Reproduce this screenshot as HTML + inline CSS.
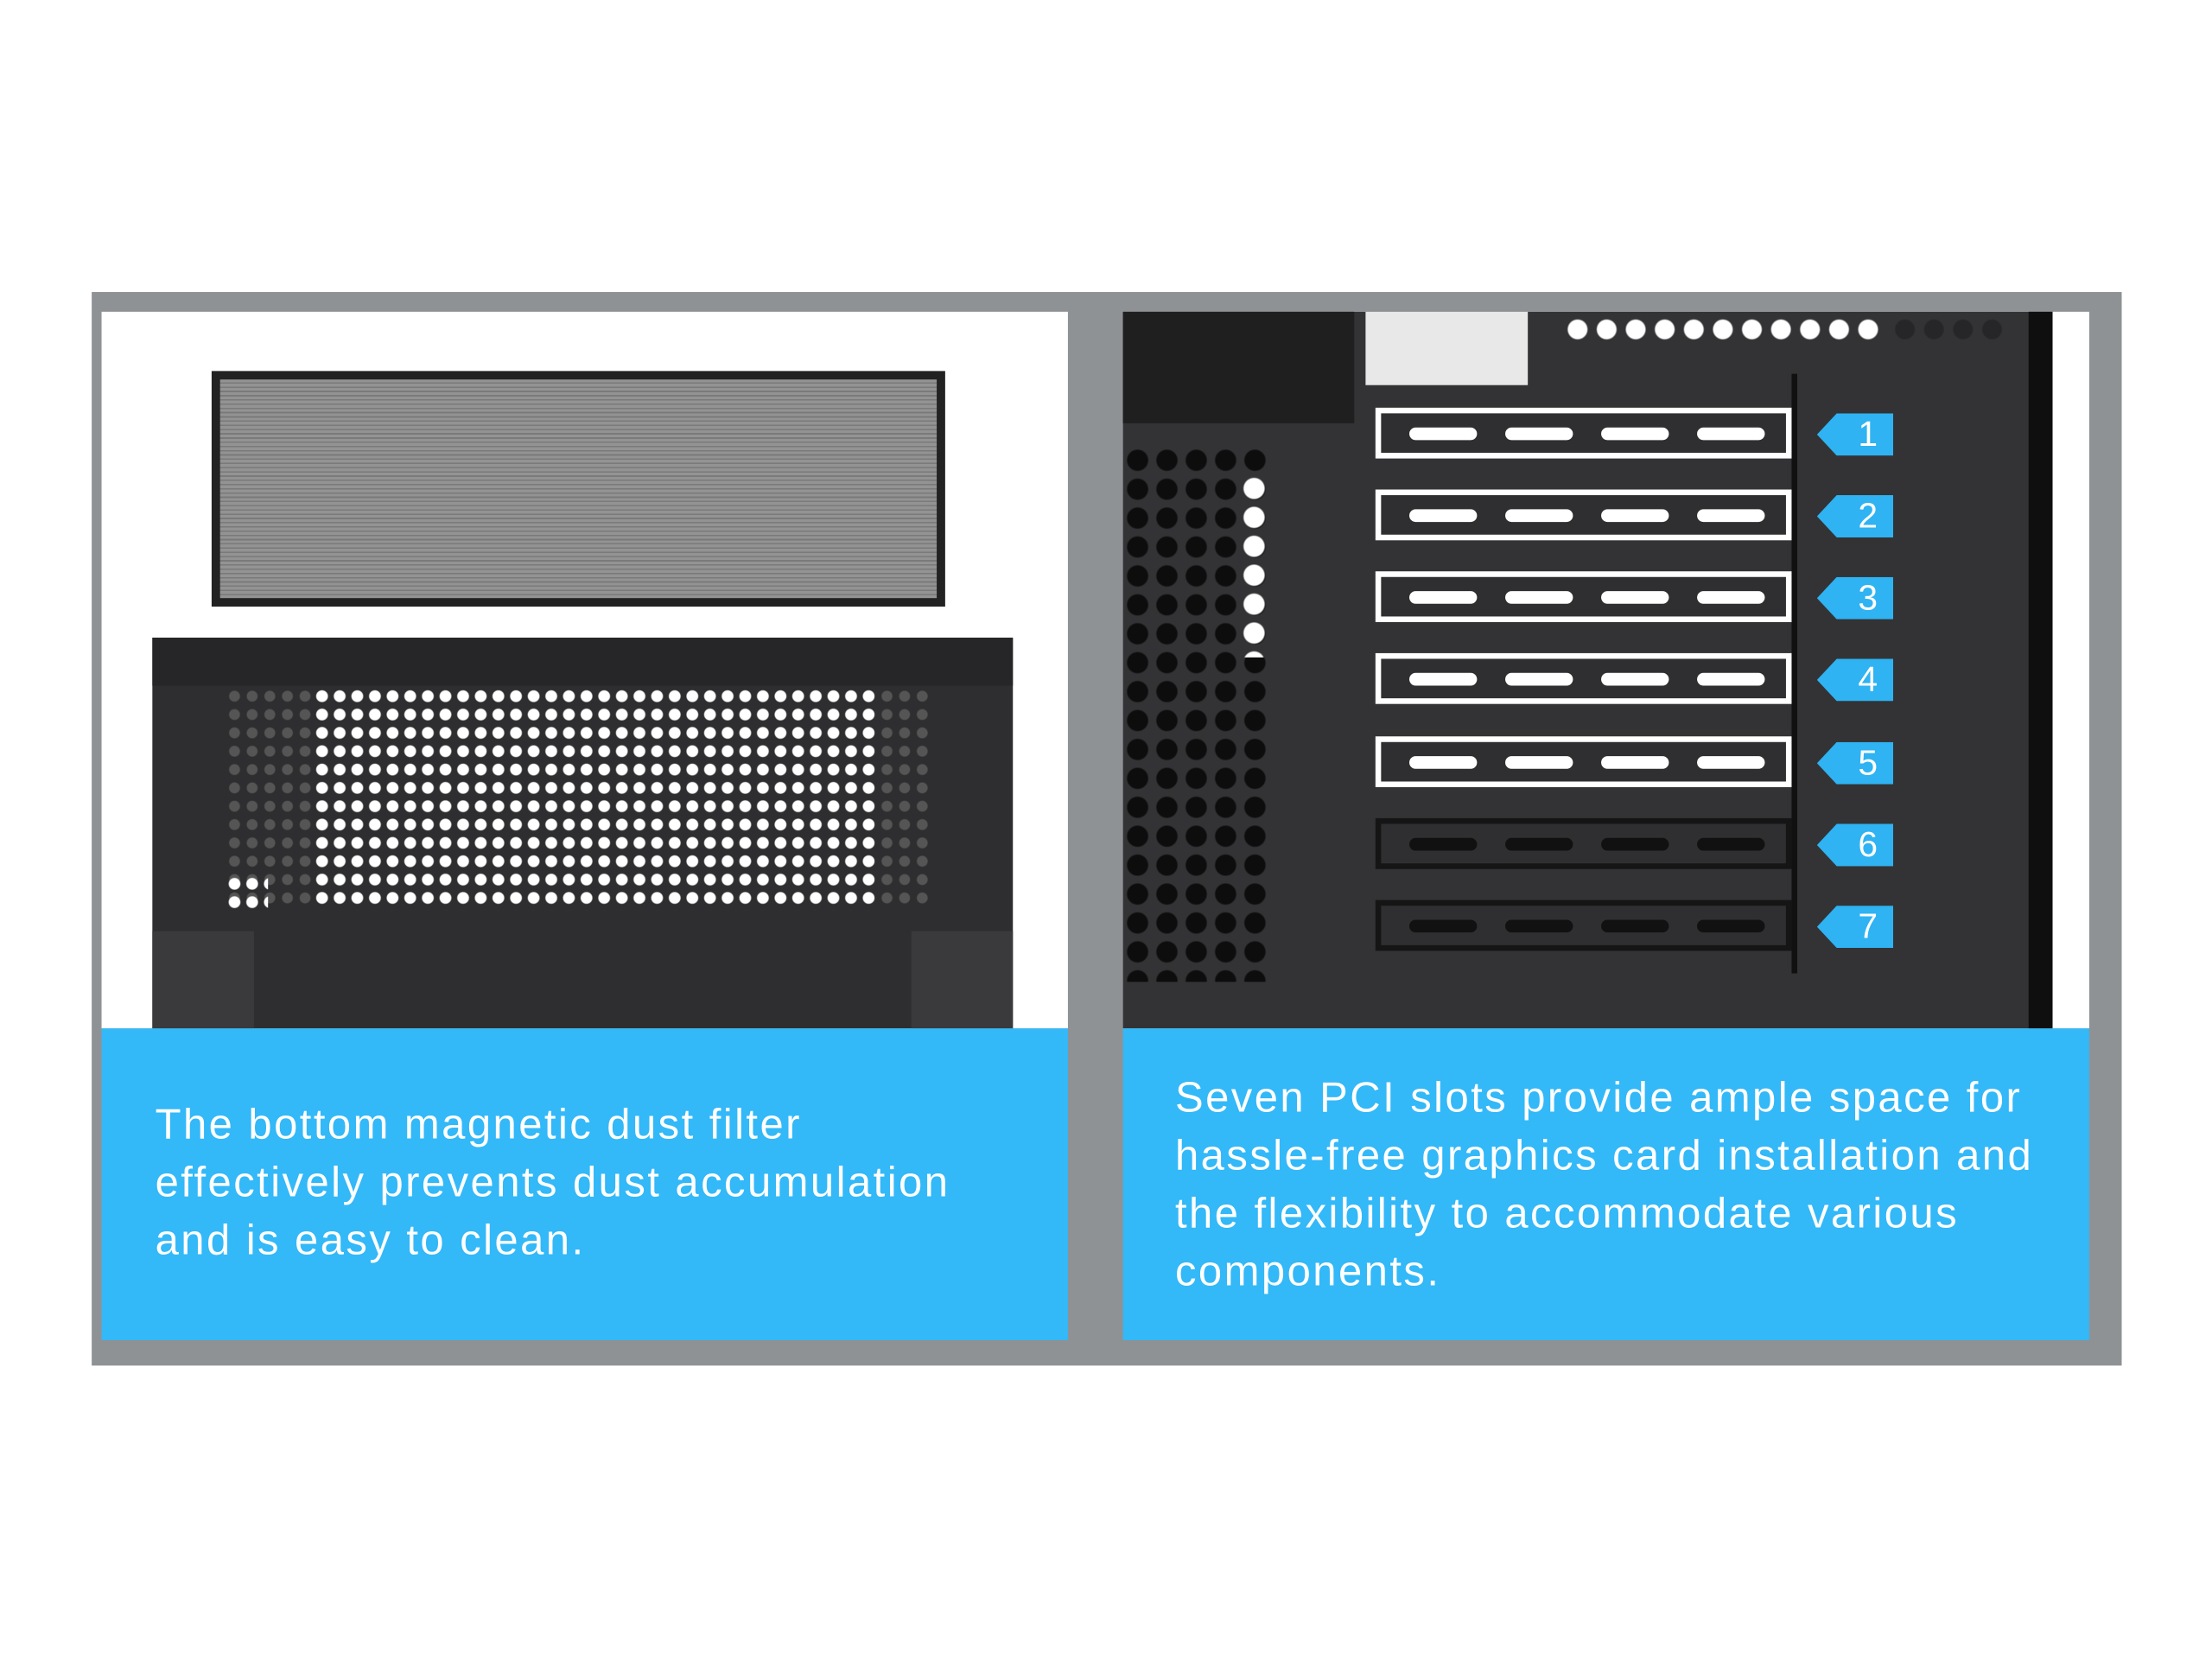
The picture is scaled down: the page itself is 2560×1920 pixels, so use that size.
<!DOCTYPE html>
<html><head><meta charset="utf-8"><style>
html,body{margin:0;padding:0;background:#fff;width:2560px;height:1920px;overflow:hidden}
#w{position:absolute;left:0;top:0;width:1568px;height:1176px;transform:scale(1.63265);transform-origin:0 0;font-family:"Liberation Sans",sans-serif}
.a{position:absolute}
.txt{color:#fff;font-size:30px;line-height:41px;letter-spacing:1.5px;white-space:nowrap}
.slot{position:absolute;left:975px;width:295px;height:36px;box-sizing:border-box;border:4px solid #fff;background:#2f2f31}
.slot.d{border-color:#151516}
.slot i{position:absolute;top:10px;width:48px;height:9px;border-radius:5px;background:#fff}
.slot.d i{background:#111}
.tag{position:absolute;left:1288px;width:54px;height:30px;background:#2fb3f2;clip-path:polygon(0 50%,14px 0,100% 0,100% 100%,14px 100%);color:#fff;font-size:25px;line-height:30px;text-align:right;box-sizing:border-box;padding-right:11px}
</style></head><body><div id="w">
<div class="a" style="left:65px;top:207px;width:1439px;height:761px;background:#8f9295"></div>
<!-- left panel -->
<div class="a" style="left:72px;top:221px;width:685px;height:508px;background:#fff"></div>
<div class="a" style="left:150px;top:263px;width:520px;height:167px;background:#222;"></div>
<div class="a" style="left:156px;top:269px;width:508px;height:155px;background:repeating-linear-gradient(0deg,#939393 0 2px,#7a7a7a 2px 3px)"></div>
<div class="a" style="left:108px;top:452px;width:610px;height:277px;background:#2e2e30"></div>
<div class="a" style="left:108px;top:452px;width:610px;height:34px;background:#262628"></div>
<div class="a" style="left:160px;top:487px;width:500px;height:158px;background-image:radial-gradient(circle,#555 3.5px,transparent 4.2px);background-size:12.5px 13px"></div>
<div class="a" style="left:222px;top:487px;width:398px;height:158px;background-image:radial-gradient(circle,#fff 3.8px,transparent 4.5px);background-size:12.5px 13px"></div>
<div class="a" style="left:160px;top:620px;width:30px;height:25px;background-image:radial-gradient(circle,#fff 3.8px,transparent 4.5px);background-size:12.5px 13px"></div>
<div class="a" style="left:108px;top:660px;width:72px;height:69px;background:#3a3a3c"></div>
<div class="a" style="left:646px;top:660px;width:72px;height:69px;background:#3a3a3c"></div>
<div class="a" style="left:72px;top:729px;width:685px;height:221px;background:#33b8f8"></div>
<div class="a txt" style="left:110px;top:777px">The bottom magnetic dust filter<br>effectively prevents dust accumulation<br>and is easy to clean.</div>
<!-- right panel -->
<div class="a" style="left:796px;top:221px;width:685px;height:508px;background:#fff"></div>
<div class="a" style="left:796px;top:221px;width:659px;height:508px;background:#333335"></div>
<div class="a" style="left:796px;top:221px;width:164px;height:79px;background:#1f1f20"></div>
<div class="a" style="left:968px;top:221px;width:115px;height:52px;background:#e8e8e8"></div>
<div class="a" style="left:1108px;top:225px;width:226px;height:17px;background-image:radial-gradient(circle,#fff 6.5px,transparent 7.5px);background-size:20.6px 17px"></div>
<div class="a" style="left:1340px;top:225px;width:80px;height:17px;background-image:radial-gradient(circle,#262628 6.5px,transparent 7.5px);background-size:20.6px 17px"></div>
<div class="a" style="left:796px;top:316px;width:104px;height:380px;background-image:radial-gradient(circle,#0d0d0e 7px,transparent 8px);background-size:20.8px 20.5px"></div>
<div class="a" style="left:879px;top:336px;width:20px;height:130px;background-image:radial-gradient(circle,#fff 7px,transparent 8px);background-size:20px 20.5px"></div>
<div class="a" style="left:1438px;top:221px;width:17px;height:508px;background:#0f0f10"></div>
<div class="a" style="left:1270px;top:265px;width:4px;height:425px;background:#111"></div>
<div class="slot" style="top:289px"><i style="left:20px"></i><i style="left:88px"></i><i style="left:156px"></i><i style="left:224px"></i></div>
<div class="slot" style="top:347px"><i style="left:20px"></i><i style="left:88px"></i><i style="left:156px"></i><i style="left:224px"></i></div>
<div class="slot" style="top:405px"><i style="left:20px"></i><i style="left:88px"></i><i style="left:156px"></i><i style="left:224px"></i></div>
<div class="slot" style="top:463px"><i style="left:20px"></i><i style="left:88px"></i><i style="left:156px"></i><i style="left:224px"></i></div>
<div class="slot" style="top:522px"><i style="left:20px"></i><i style="left:88px"></i><i style="left:156px"></i><i style="left:224px"></i></div>
<div class="slot d" style="top:580px"><i style="left:20px"></i><i style="left:88px"></i><i style="left:156px"></i><i style="left:224px"></i></div>
<div class="slot d" style="top:638px"><i style="left:20px"></i><i style="left:88px"></i><i style="left:156px"></i><i style="left:224px"></i></div>
<div class="tag" style="top:293px">1</div>
<div class="tag" style="top:351px">2</div>
<div class="tag" style="top:409px">3</div>
<div class="tag" style="top:467px">4</div>
<div class="tag" style="top:526px">5</div>
<div class="tag" style="top:584px">6</div>
<div class="tag" style="top:642px">7</div>
<div class="a" style="left:796px;top:729px;width:685px;height:221px;background:#33b8f8"></div>
<div class="a txt" style="left:833px;top:758px">Seven PCI slots provide ample space for<br>hassle-free graphics card installation and<br>the flexibility to accommodate various<br>components.</div>
</div></body></html>
